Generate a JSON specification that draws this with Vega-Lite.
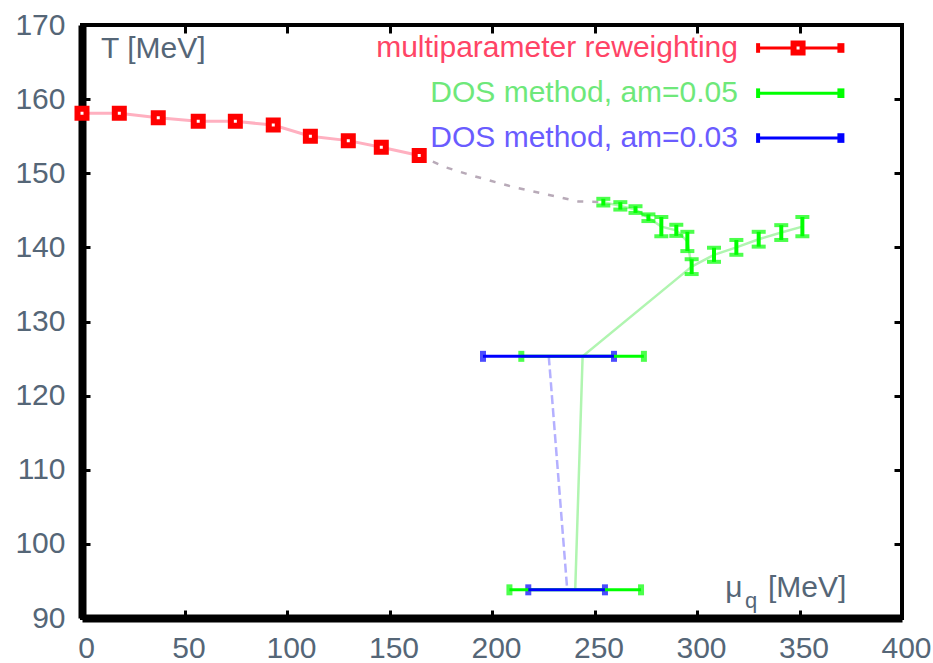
{
  "$schema": "https://vega.github.io/schema/vega-lite/v6.json",
  "width": 820,
  "height": 593,
  "autosize": "none",
  "padding": {"left": 82, "top": 25, "right": 31, "bottom": 45},
  "background": "white",
  "config": {
    "view": {"stroke": "black", "strokeWidth": 4},
    "font": "Liberation Sans",
    "text": {"font": "Liberation Sans", "fontSize": 30}
  },
  "resolve": {"axis": {"x": "independent", "y": "independent"}},
  "datasets": {
    "one": [{}],
    "red": [
      {"mu": 0, "T": 158.1}, {"mu": 18.2, "T": 158.1}, {"mu": 37.2, "T": 157.5},
      {"mu": 56.7, "T": 157.0}, {"mu": 74.8, "T": 157.0}, {"mu": 93.3, "T": 156.5},
      {"mu": 111.4, "T": 155.0}, {"mu": 129.9, "T": 154.4}, {"mu": 146.0, "T": 153.5},
      {"mu": 164.5, "T": 152.4}
    ],
    "bridge": [
      {"mu": 164.5, "T": 152.4}, {"mu": 176.3, "T": 150.9}, {"mu": 190.1, "T": 149.7},
      {"mu": 209.6, "T": 148.2}, {"mu": 225.9, "T": 147.2}, {"mu": 242.1, "T": 146.2},
      {"mu": 254.3, "T": 146.1}
    ],
    "green": [
      {"mu": 254.3, "T": 146.1, "lo": 145.65, "hi": 146.55},
      {"mu": 262.6, "T": 145.6, "lo": 145.1, "hi": 146.1},
      {"mu": 270.0, "T": 145.1, "lo": 144.65, "hi": 145.55},
      {"mu": 276.3, "T": 144.0, "lo": 143.55, "hi": 144.45},
      {"mu": 282.6, "T": 142.8, "lo": 141.5, "hi": 144.1},
      {"mu": 289.9, "T": 142.3, "lo": 141.55, "hi": 143.05},
      {"mu": 295.3, "T": 140.8, "lo": 139.5, "hi": 142.1},
      {"mu": 297.4, "T": 137.4, "lo": 136.4, "hi": 138.4},
      {"mu": 308.3, "T": 139.0, "lo": 138.05, "hi": 139.95},
      {"mu": 319.2, "T": 140.0, "lo": 139.0, "hi": 141.0},
      {"mu": 330.1, "T": 141.1, "lo": 140.1, "hi": 142.1},
      {"mu": 341.1, "T": 142.0, "lo": 141.0, "hi": 143.0},
      {"mu": 351.4, "T": 142.8, "lo": 141.5, "hi": 144.1}
    ],
    "gline": [
      {"seg": "a", "i": 1, "mu": 254.3, "T": 146.1},
      {"seg": "a", "i": 2, "mu": 262.6, "T": 145.6},
      {"seg": "a", "i": 3, "mu": 270.0, "T": 145.1},
      {"seg": "a", "i": 4, "mu": 276.3, "T": 144.0},
      {"seg": "a", "i": 5, "mu": 282.6, "T": 142.8},
      {"seg": "a", "i": 6, "mu": 289.9, "T": 142.3},
      {"seg": "a", "i": 7, "mu": 295.3, "T": 140.8},
      {"seg": "a", "i": 8, "mu": 297.4, "T": 137.4},
      {"seg": "a", "i": 9, "mu": 308.3, "T": 139.0},
      {"seg": "a", "i": 10, "mu": 319.2, "T": 140.0},
      {"seg": "a", "i": 11, "mu": 330.1, "T": 141.1},
      {"seg": "a", "i": 12, "mu": 341.1, "T": 142.0},
      {"seg": "a", "i": 13, "mu": 351.4, "T": 142.8},
      {"seg": "b", "i": 1, "mu": 240.6, "T": 93.8},
      {"seg": "b", "i": 2, "mu": 244.2, "T": 125.3},
      {"seg": "b", "i": 3, "mu": 297.4, "T": 137.4}
    ],
    "bline": [
      {"mu": 227.7, "T": 125.3},
      {"mu": 236.7, "T": 93.8}
    ],
    "hbars": [
      {"s": "g", "T": 125.3, "c": 244.2, "lo": 214.3, "hi": 274.1},
      {"s": "g", "T": 93.8, "c": 240.6, "lo": 208.5, "hi": 272.7},
      {"s": "b", "T": 125.3, "c": 227.7, "lo": 195.6, "hi": 259.5},
      {"s": "b", "T": 93.8, "c": 236.7, "lo": 217.7, "hi": 255.1}
    ]
  },
  "layer": [
    {
      "data": {"name": "red"},
      "mark": {"type": "line", "color": "#ffb0c0", "strokeWidth": 3},
      "encoding": {
        "x": {
          "field": "mu", "type": "quantitative",
          "scale": {"domain": [0, 400], "nice": false, "zero": false},
          "axis": {
            "orient": "bottom", "title": null, "grid": false,
            "values": [0, 50, 100, 150, 200, 250, 300, 350, 400],
            "domainColor": "black", "domainWidth": 8,
            "tickColor": "black", "tickWidth": 3, "tickSize": -8,
            "labelFont": "Liberation Sans", "labelFontSize": 30, "labelColor": "#556677",
            "labelPadding": 23, "labelFlush": false, "labelOffset": 4, "labelBaseline": "top"
          }
        },
        "y": {
          "field": "T", "type": "quantitative",
          "scale": {"domain": [90, 170], "nice": false, "zero": false},
          "axis": {
            "orient": "left", "title": null, "grid": false,
            "values": [90, 100, 110, 120, 130, 140, 150, 160, 170],
            "domainColor": "black", "domainWidth": 8,
            "tickColor": "black", "tickWidth": 3, "tickSize": -8,
            "labelFont": "Liberation Sans", "labelFontSize": 30, "labelColor": "#556677",
            "labelPadding": 25, "labelFlush": false, "labelBaseline": "middle"
          }
        }
      }
    },
    {
      "data": {"name": "red"},
      "mark": {"type": "point", "opacity": 0},
      "encoding": {
        "x": {
          "field": "mu", "type": "quantitative",
          "axis": {
            "orient": "top", "title": null, "grid": false, "labels": false, "domain": false,
            "values": [0, 50, 100, 150, 200, 250, 300, 350, 400],
            "tickColor": "black", "tickWidth": 3, "tickSize": -8
          }
        },
        "y": {
          "field": "T", "type": "quantitative",
          "axis": {
            "orient": "right", "title": null, "grid": false, "labels": false, "domain": false,
            "values": [90, 100, 110, 120, 130, 140, 150, 160, 170],
            "tickColor": "black", "tickWidth": 3, "tickSize": -8
          }
        }
      }
    },
    {
      "data": {"name": "bridge"},
      "mark": {"type": "line", "color": "#b8aab8", "strokeWidth": 2.5, "strokeDash": [6, 9]},
      "encoding": {
        "x": {"field": "mu", "type": "quantitative", "axis": null},
        "y": {"field": "T", "type": "quantitative", "axis": null}
      }
    },
    {
      "data": {"name": "gline"},
      "mark": {"type": "line", "color": "#b0f5b0", "strokeWidth": 2.5},
      "encoding": {
        "x": {"field": "mu", "type": "quantitative", "axis": null},
        "y": {"field": "T", "type": "quantitative", "axis": null},
        "detail": {"field": "seg", "type": "nominal"},
        "order": {"field": "i", "type": "quantitative"}
      }
    },
    {
      "data": {"name": "bline"},
      "mark": {"type": "line", "color": "#b4b0ff", "strokeWidth": 2.5, "strokeDash": [9, 4]},
      "encoding": {
        "x": {"field": "mu", "type": "quantitative", "axis": null},
        "y": {"field": "T", "type": "quantitative", "axis": null}
      }
    },
    {
      "data": {"name": "hbars"},
      "mark": {"type": "errorbar", "thickness": 3, "ticks": {"size": 11, "thickness": 6}},
      "encoding": {
        "x": {"field": "lo", "type": "quantitative", "axis": null},
        "x2": {"field": "hi"},
        "y": {"field": "T", "type": "quantitative", "axis": null},
        "color": {"field": "s", "type": "nominal", "scale": {"domain": ["g", "b"], "range": ["#00ff00", "#0000ff"]}, "legend": null}
      }
    },
    {
      "data": {"name": "green"},
      "mark": {"type": "errorbar", "color": "#00ff00", "thickness": 4, "ticks": {"size": 14, "thickness": 4}},
      "encoding": {
        "x": {"field": "mu", "type": "quantitative", "axis": null},
        "y": {"field": "lo", "type": "quantitative", "axis": null},
        "y2": {"field": "hi"}
      }
    },
    {
      "data": {"name": "red"},
      "mark": {"type": "point", "shape": "square", "size": 81, "filled": true, "fill": "white", "stroke": "#ff0000", "strokeWidth": 6, "opacity": 1},
      "encoding": {
        "x": {"field": "mu", "type": "quantitative", "axis": null},
        "y": {"field": "T", "type": "quantitative", "axis": null}
      }
    },
    {
      "data": {"name": "one"},
      "mark": {"type": "text", "text": "multiparameter reweighting", "align": "right", "baseline": "middle", "color": "#ff4466"},
      "encoding": {"x": {"datum": 320, "axis": null}, "y": {"datum": 166.9, "axis": null}}
    },
    {
      "data": {"name": "one"},
      "mark": {"type": "text", "text": "DOS method, am=0.05", "align": "right", "baseline": "middle", "color": "#6ee87a"},
      "encoding": {"x": {"datum": 320, "axis": null}, "y": {"datum": 160.8, "axis": null}}
    },
    {
      "data": {"name": "one"},
      "mark": {"type": "text", "text": "DOS method, am=0.03", "align": "right", "baseline": "middle", "color": "#6a5cff"},
      "encoding": {"x": {"datum": 320, "axis": null}, "y": {"datum": 154.75, "axis": null}}
    },
    {
      "data": {"name": "one"},
      "mark": {"type": "rule", "color": "#ff0000", "strokeWidth": 3},
      "encoding": {"x": {"datum": 329.6, "axis": null}, "x2": {"datum": 371}, "y": {"datum": 166.9, "axis": null}}
    },
    {
      "data": {"name": "one"},
      "mark": {"type": "rule", "color": "#ff0000", "strokeWidth": 4},
      "encoding": {"x": {"datum": 329.8, "axis": null}, "y": {"datum": 166.25, "axis": null}, "y2": {"datum": 167.55}}
    },
    {
      "data": {"name": "one"},
      "mark": {"type": "rule", "color": "#ff0000", "strokeWidth": 7},
      "encoding": {"x": {"datum": 370.2, "axis": null}, "y": {"datum": 166.25, "axis": null}, "y2": {"datum": 167.55}}
    },
    {
      "data": {"name": "one"},
      "mark": {"type": "point", "shape": "square", "size": 81, "filled": true, "fill": "white", "stroke": "#ff0000", "strokeWidth": 6, "opacity": 1},
      "encoding": {"x": {"datum": 349.3, "axis": null}, "y": {"datum": 166.9, "axis": null}}
    },
    {
      "data": {"name": "one"},
      "mark": {"type": "rule", "color": "#00ff00", "strokeWidth": 3},
      "encoding": {"x": {"datum": 329.6, "axis": null}, "x2": {"datum": 371}, "y": {"datum": 160.8, "axis": null}}
    },
    {
      "data": {"name": "one"},
      "mark": {"type": "rule", "color": "#00ff00", "strokeWidth": 4},
      "encoding": {"x": {"datum": 329.8, "axis": null}, "y": {"datum": 160.15, "axis": null}, "y2": {"datum": 161.45}}
    },
    {
      "data": {"name": "one"},
      "mark": {"type": "rule", "color": "#00ff00", "strokeWidth": 7},
      "encoding": {"x": {"datum": 370.2, "axis": null}, "y": {"datum": 160.15, "axis": null}, "y2": {"datum": 161.45}}
    },
    {
      "data": {"name": "one"},
      "mark": {"type": "rule", "color": "#0000ff", "strokeWidth": 3},
      "encoding": {"x": {"datum": 329.6, "axis": null}, "x2": {"datum": 371}, "y": {"datum": 154.75, "axis": null}}
    },
    {
      "data": {"name": "one"},
      "mark": {"type": "rule", "color": "#0000ff", "strokeWidth": 4},
      "encoding": {"x": {"datum": 329.8, "axis": null}, "y": {"datum": 154.1, "axis": null}, "y2": {"datum": 155.4}}
    },
    {
      "data": {"name": "one"},
      "mark": {"type": "rule", "color": "#0000ff", "strokeWidth": 7},
      "encoding": {"x": {"datum": 370.2, "axis": null}, "y": {"datum": 154.1, "axis": null}, "y2": {"datum": 155.4}}
    },
    {
      "data": {"name": "one"},
      "mark": {"type": "text", "text": "T [MeV]", "align": "left", "baseline": "middle", "color": "#556677"},
      "encoding": {"x": {"datum": 9.3, "axis": null}, "y": {"datum": 166.8, "axis": null}}
    },
    {
      "data": {"name": "one"},
      "mark": {"type": "text", "text": "μ", "align": "left", "baseline": "alphabetic", "color": "#556677"},
      "encoding": {"x": {"datum": 313.8, "axis": null}, "y": {"datum": 92.8, "axis": null}}
    },
    {
      "data": {"name": "one"},
      "mark": {"type": "text", "text": "q", "align": "left", "baseline": "alphabetic", "fontSize": 22, "color": "#556677"},
      "encoding": {"x": {"datum": 323.4, "axis": null}, "y": {"datum": 91.4, "axis": null}}
    },
    {
      "data": {"name": "one"},
      "mark": {"type": "text", "text": "[MeV]", "align": "left", "baseline": "alphabetic", "color": "#556677"},
      "encoding": {"x": {"datum": 334.6, "axis": null}, "y": {"datum": 92.8, "axis": null}}
    }
  ]
}
